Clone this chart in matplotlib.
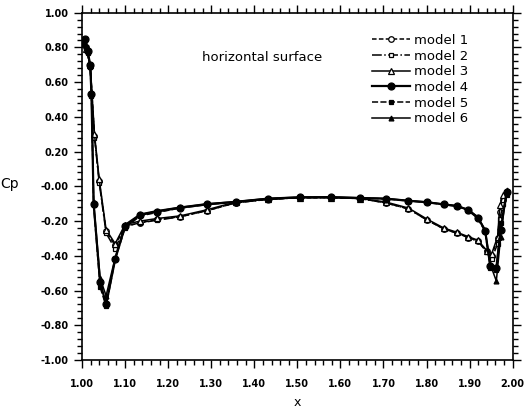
import matplotlib
matplotlib.use("Agg")
import matplotlib.pyplot as plt
from matplotlib.ticker import MultipleLocator, FuncFormatter

# ---- data ----
x_open = [1.002, 1.010, 1.019, 1.029, 1.040, 1.056, 1.077, 1.100, 1.135, 1.175,
          1.228, 1.290, 1.357, 1.431, 1.505, 1.577, 1.645, 1.705, 1.758, 1.802,
          1.840, 1.871, 1.897, 1.919, 1.940, 1.951, 1.965, 1.970, 1.978]
model1 = [0.82, 0.80, 0.70, 0.29, 0.03, -0.26, -0.34, -0.23, -0.21, -0.19,
          -0.175, -0.14, -0.095, -0.075, -0.065, -0.065, -0.07, -0.095, -0.13, -0.195,
          -0.245, -0.27, -0.295, -0.315, -0.375, -0.40, -0.30, -0.15, -0.08]
model2 = [0.83, 0.80, 0.69, 0.28, 0.02, -0.27, -0.36, -0.23, -0.21, -0.195,
          -0.175, -0.14, -0.095, -0.075, -0.065, -0.065, -0.07, -0.095, -0.13, -0.195,
          -0.245, -0.27, -0.295, -0.315, -0.38, -0.42, -0.33, -0.19, -0.10]
model3 = [0.83, 0.79, 0.70, 0.30, 0.04, -0.25, -0.33, -0.22, -0.20, -0.185,
          -0.17, -0.135, -0.09, -0.075, -0.065, -0.065, -0.07, -0.09, -0.125, -0.19,
          -0.24, -0.265, -0.29, -0.31, -0.37, -0.39, -0.29, -0.11, -0.05]

x_filled = [1.003, 1.008, 1.013, 1.019, 1.022, 1.027, 1.042, 1.056, 1.077, 1.100,
            1.135, 1.175, 1.228, 1.290, 1.357, 1.431, 1.505, 1.577, 1.645, 1.705,
            1.758, 1.802, 1.840, 1.871, 1.897, 1.919, 1.936, 1.948, 1.962, 1.972, 1.986]
model4 = [0.83, 0.85, 0.78, 0.70, 0.53, -0.10, -0.55, -0.68, -0.42, -0.23,
          -0.165, -0.145, -0.123, -0.104, -0.089, -0.071, -0.063, -0.062, -0.067, -0.071,
          -0.083, -0.092, -0.104, -0.113, -0.136, -0.180, -0.255, -0.46, -0.47, -0.25, -0.03]
model5 = [0.82, 0.84, 0.77, 0.69, 0.52, -0.11, -0.58, -0.69, -0.42, -0.24,
          -0.17, -0.15, -0.125, -0.105, -0.09, -0.072, -0.064, -0.063, -0.068, -0.072,
          -0.084, -0.093, -0.105, -0.115, -0.14, -0.185, -0.26, -0.47, -0.48, -0.21, -0.05]
model6 = [0.84, 0.85, 0.78, 0.70, 0.54, -0.09, -0.53, -0.63, -0.41, -0.22,
          -0.16, -0.14, -0.12, -0.10, -0.088, -0.07, -0.062, -0.061, -0.066, -0.07,
          -0.082, -0.09, -0.103, -0.112, -0.135, -0.175, -0.25, -0.45, -0.545, -0.29, -0.02]

labels = ["model 1", "model 2", "model 3", "model 4", "model 5", "model 6"]

# ---- figure ----
W, H = 527, 411
fig = plt.figure(figsize=(W / 100, H / 100), dpi=100)
ax = fig.add_axes([82 / W, 1 - 360 / H, (512.7 - 82) / W, (360 - 12.7) / H])

series = [
    (x_open, model1, dict(marker="o", mfc="white", ms=4, ls=(0, (3, 1.5)), lw=1.1)),
    (x_open, model2, dict(marker="s", mfc="white", ms=3.5, ls="-.", lw=1.1)),
    (x_open, model3, dict(marker="^", mfc="white", ms=4, ls="-", lw=1.1)),
    (x_filled, model4, dict(marker="o", mfc="black", ms=5, ls="-", lw=1.6)),
    (x_filled, model5, dict(marker="s", mfc="black", ms=3.5, ls=(0, (4, 1.5)), lw=1.1)),
    (x_filled, model6, dict(marker="^", mfc="black", ms=3.5, ls="-", lw=1.1)),
]
for (xs, ys, st), lab in zip(series, labels):
    ax.plot(xs, ys, color="black", mec="black", mew=0.9, label=lab, **st)

ax.set_xlim(1.0, 2.0)
ax.set_ylim(-1.0, 1.0)
ax.xaxis.set_major_locator(MultipleLocator(0.1))
ax.xaxis.set_minor_locator(MultipleLocator(0.02))
ax.yaxis.set_major_locator(MultipleLocator(0.2))
ax.yaxis.set_minor_locator(MultipleLocator(0.04))


def yfmt(v, pos):
    if abs(v) < 1e-9:
        return "-0.00"
    return f"{v:.2f}"


ax.yaxis.set_major_formatter(FuncFormatter(yfmt))
ax.xaxis.set_major_formatter(FuncFormatter(lambda v, p: f"{v:.2f}"))

ax.tick_params(which="both", direction="out", top=True, right=True,
               labeltop=False, labelright=False, width=1.0, color="black")
ax.tick_params(which="major", length=6)
ax.tick_params(which="minor", length=3.5)
ax.tick_params(axis="y", which="major", pad=3.5)
ax.tick_params(axis="x", which="major", pad=8)
for lab in ax.get_xticklabels() + ax.get_yticklabels():
    lab.set_fontfamily("DejaVu Sans")
    lab.set_fontweight("bold")
    lab.set_fontsize(7)
for sp in ax.spines.values():
    sp.set_linewidth(1.2)

fig.text(10 / W, 1 - 184 / H, "Cp", fontsize=10, ha="center", va="center",
         family="DejaVu Sans")
fig.text(297 / W, 1 - 402 / H, "x", fontsize=9, ha="center", va="center",
         family="DejaVu Sans")

ax.text(1.418, 0.74, "horizontal surface", fontsize=9.5, ha="center", va="center",
        family="DejaVu Sans")

leg = ax.legend(loc="upper left", bbox_to_anchor=(372 / W, 1 - 34 / H),
                bbox_transform=fig.transFigure, frameon=False, borderpad=0,
                borderaxespad=0, handlelength=2.9, handletextpad=0.3,
                labelspacing=0.2, prop={"family": "DejaVu Sans", "size": 9.5})

fig.savefig("out.png", dpi=100)
